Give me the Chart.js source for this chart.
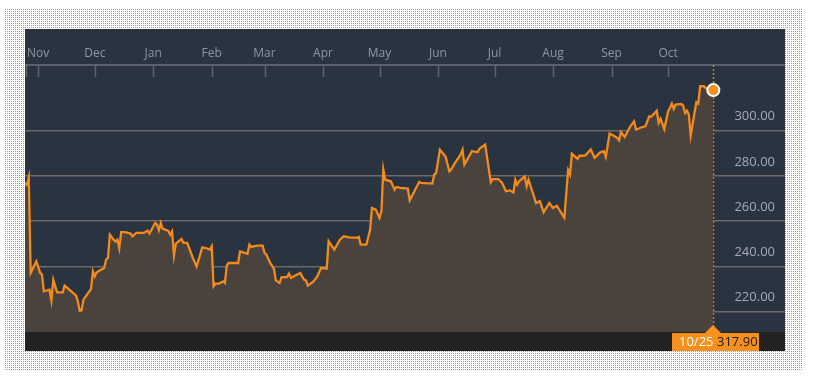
<!DOCTYPE html>
<html>
<head>
<meta charset="utf-8">
<script src="https://cdn.jsdelivr.net/npm/chart.js@4.4.1/dist/chart.umd.min.js"></script>
<style>
  body { margin: 0; background: #fff; }
  #frame { position: absolute; left: 5px; top: 9px; }
  .panel {
    position: absolute; left: 25px; top: 29px; width: 760px; height: 322px;
    background: #2a3440;
  }
</style>
</head>
<body>
<canvas id="frame" width="798" height="361"></canvas>
<div class="panel">
  <canvas id="priceChart" width="760" height="322"></canvas>
</div>
<script>
// day offsets from the first session (Oct 25 of the previous year)
const days = [0, 1, 2, 3, 6, 8, 9, 10, 13, 14, 15, 17, 20, 21, 27, 28, 29, 30, 31, 35,
  36, 37, 38, 42, 43, 44, 45, 47, 48, 49, 50, 51, 53, 56, 57, 59, 63, 65, 66, 69,
  70, 71, 72, 73, 76, 77, 78, 79, 80, 83, 84, 86, 89, 91, 94, 96, 98, 99, 100, 101,
  103, 105, 106, 107, 108, 113, 114, 118, 119, 120, 123, 126, 127, 128, 130, 132, 133, 135, 136, 139,
  140, 141, 143, 146, 148, 149, 150, 153, 155, 157, 160, 161, 164, 167, 169, 172, 176, 177, 178, 181,
  183, 184, 186, 188, 189, 190, 191, 194, 196, 197, 199, 203, 204, 209, 210, 216, 217, 218, 220, 223,
  225, 226, 228, 231, 232, 233, 237, 240, 241, 244, 247, 248, 251, 253, 255, 257, 259, 260, 261, 262,
  265, 266, 267, 269, 271, 273, 275, 278, 280, 282, 286, 288, 289, 290, 293, 294, 297, 300, 302, 305,
  307, 308, 310, 312, 314, 315, 316, 318, 321, 323, 324, 327, 329, 331, 332, 335, 336, 337, 339, 341,
  342, 343, 344, 345, 348, 349, 350, 351, 352, 353, 355, 356, 357, 358, 360, 361, 365];

const prices = [276.9, 276.1, 279.4, 237.1, 242.2, 237.1, 236.4, 229.0, 229.7, 225.0, 234.1, 228.5, 228.5, 231.5, 227.2, 224.6, 220.4, 220.6, 225.3, 230.0,
  237.8, 235.6, 237.4, 239.3, 243.0, 243.7, 254.0, 251.8, 251.0, 251.8, 248.0, 255.1, 255.1, 254.5, 253.3, 254.8, 254.8, 255.8, 254.5, 259.2,
  258.5, 256.0, 259.2, 256.7, 255.7, 254.0, 255.5, 244.8, 250.1, 252.1, 250.4, 250.4, 243.7, 240.0, 248.4, 248.1, 247.4, 248.9, 231.2, 232.4,
  232.4, 233.4, 232.7, 240.3, 241.5, 241.5, 246.6, 245.6, 249.6, 248.6, 249.2, 249.2, 246.0, 245.2, 241.5, 239.0, 233.8, 232.7, 235.2, 235.3,
  236.8, 234.9, 235.9, 237.1, 234.1, 233.8, 231.5, 233.3, 235.6, 239.3, 239.0, 251.1, 247.4, 251.8, 253.3, 252.8, 252.6, 253.0, 249.6, 249.6,
  256.2, 265.8, 265.1, 261.4, 264.3, 282.8, 278.3, 277.6, 273.9, 275.1, 274.7, 274.4, 269.2, 277.3, 276.9, 276.6, 280.6, 281.3, 291.6, 288.6,
  282.0, 282.8, 285.7, 289.4, 291.6, 285.0, 290.9, 290.5, 292.0, 293.8, 277.2, 278.6, 278.6, 276.9, 273.2, 273.6, 272.7, 278.3, 276.1, 277.6,
  279.8, 275.4, 278.3, 273.2, 268.0, 268.8, 263.9, 268.0, 265.8, 266.8, 261.4, 282.5, 280.6, 289.8, 287.5, 288.9, 289.0, 291.6, 288.0, 290.4,
  290.9, 288.4, 298.7, 297.8, 296.8, 295.7, 299.3, 297.2, 301.9, 304.1, 300.4, 301.5, 301.9, 306.3, 306.1, 308.8, 303.4, 305.2, 300.7, 308.5,
  310.0, 311.9, 309.6, 311.5, 311.8, 311.0, 307.8, 308.8, 307.1, 297.8, 307.8, 312.5, 311.9, 319.6, 319.6, 318.9, 317.9];

const monthStarts = [7, 37, 68, 99, 127, 158, 188, 219, 249, 280, 311, 341];
const monthLabels = ['Nov', 'Dec', 'Jan', 'Feb', 'Mar', 'Apr', 'May', 'Jun', 'Jul', 'Aug', 'Sep', 'Oct'];
const yTicks = [220, 240, 260, 280, 300];
const lastDateLabel = '10/25';

const last = prices.length - 1;

// dotted frame round the panel
const fctx = document.getElementById('frame').getContext('2d');
fctx.fillStyle = '#e8903a';
for (let y = 0; y < 361; y += 2) {
  for (let x = 0; x < 798; x += 2) fctx.fillRect(x, y, 1, 1);
}

const overlay = {
  id: 'overlay',
  beforeDraw(chart) {
    const { ctx, chartArea, width, height } = chart;
    ctx.save();
    ctx.fillStyle = '#222222';
    ctx.fillRect(0, chartArea.bottom, width, height - chartArea.bottom);
    ctx.restore();
  },
  beforeDatasetsDraw(chart) {
    const { ctx, chartArea, scales } = chart;
    const px = Math.round(scales.x.getPixelForValue(days[last])) + 0.5;
    ctx.save();
    ctx.strokeStyle = '#c08a1c';
    ctx.lineWidth = 1.5;
    ctx.setLineDash([2, 2]);
    ctx.beginPath();
    ctx.moveTo(px, chartArea.top);
    ctx.lineTo(px, chartArea.bottom);
    ctx.stroke();
    ctx.restore();
  },
  afterDraw(chart) {
    const { ctx, chartArea, scales } = chart;
    ctx.save();
    // inward month ticks under the top axis
    ctx.strokeStyle = '#5d646d';
    ctx.lineWidth = 1.5;
    const tickXs = [chartArea.left + 1].concat(monthStarts.map(v => scales.x.getPixelForValue(v)));
    tickXs.forEach(v => {
      const x = Math.round(v) + 0.5;
      ctx.beginPath();
      ctx.moveTo(x, chartArea.top);
      ctx.lineTo(x, chartArea.top + 12);
      ctx.stroke();
    });
    // last value flag
    const px = Math.round(scales.x.getPixelForValue(days[last]));
    const b = chartArea.bottom;
    ctx.fillStyle = '#f7901e';
    ctx.beginPath();
    ctx.moveTo(px - 8, b + 1);
    ctx.lineTo(px, b - 7);
    ctx.lineTo(px + 8, b + 1);
    ctx.closePath();
    ctx.fill();
    ctx.fillRect(px - 41, b + 1, 87, 18);
    ctx.font = '13px "Open Sans", sans-serif';
    ctx.textBaseline = 'middle';
    ctx.textAlign = 'left';
    ctx.fillStyle = '#ffffff';
    ctx.fillText(lastDateLabel, px - 34, b + 10);
    ctx.fillStyle = '#1a1a1a';
    ctx.fillText(prices[last].toFixed(2), px + 4, b + 10);
    ctx.restore();
  }
};

new Chart(document.getElementById('priceChart'), {
  type: 'line',
  data: {
    datasets: [{
      data: days.map((d, i) => ({ x: d, y: prices[i] })),
      borderColor: '#f28a1e',
      borderWidth: 2.3,
      backgroundColor: '#4a423c',
      fill: 'start',
      tension: 0,
      pointRadius: c => c.dataIndex === last ? 6 : 0,
      pointBackgroundColor: '#f7901e',
      pointBorderColor: '#ffffff',
      pointBorderWidth: 2
    }]
  },
  options: {
    responsive: false,
    animation: false,
    layout: { autoPadding: false, padding: { bottom: 19 } },
    plugins: { legend: { display: false }, tooltip: { enabled: false } },
    scales: {
      x: {
        type: 'linear',
        position: 'top',
        min: 0,
        max: 403,
        afterFit: s => { s.height = 36; s.paddingLeft = 0; s.paddingRight = 0; },
        afterBuildTicks: s => { s.ticks = monthStarts.map(v => ({ value: v })); },
        ticks: {
          callback: (v, i) => monthLabels[i],
          color: '#8d96a0',
          font: { family: 'Open Sans', size: 12 },
          padding: 4,
          maxRotation: 0,
          autoSkip: false
        },
        grid: { display: false, drawTicks: false, tickLength: 0 },
        border: { display: true, color: '#5a616b', width: 2 }
      },
      y: {
        position: 'right',
        min: 211,
        max: 329,
        z: 1,
        afterFit: s => { s.width = 0; s.paddingTop = 0; s.paddingBottom = 0; },
        afterBuildTicks: s => { s.ticks = yTicks.map(v => ({ value: v })); },
        ticks: {
          mirror: true,
          padding: -10,
          labelOffset: -14,
          color: '#a3abb5',
          font: { family: 'Open Sans', size: 13 },
          callback: v => v.toFixed(2)
        },
        grid: { color: 'rgba(190,175,155,0.45)', drawTicks: false, lineWidth: 1.5 },
        border: { display: false }
      }
    }
  },
  plugins: [overlay]
});
</script>
</body>
</html>
